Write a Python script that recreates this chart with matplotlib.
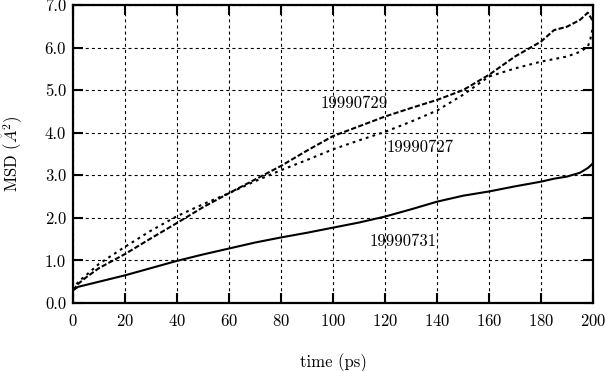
import matplotlib
matplotlib.use("Agg")
import matplotlib.pyplot as plt
from matplotlib.ticker import FormatStrFormatter, MultipleLocator

plt.rcParams['font.family'] = ['cmr10']
plt.rcParams['mathtext.fontset'] = 'cm'
plt.rcParams['axes.formatter.use_mathtext'] = True
plt.rcParams['lines.scale_dashes'] = False

# 19990731 (solid)
t_731 = [0, 2, 10, 20, 30, 40, 50, 60, 70, 80, 90, 100, 110, 120, 130, 140, 150, 160, 170, 180, 185, 190, 195, 198, 200]
msd_731 = [0.30, 0.38, 0.50, 0.65, 0.82, 0.99, 1.14, 1.28, 1.42, 1.54, 1.65, 1.77, 1.89, 2.03, 2.20, 2.38, 2.52, 2.62, 2.74, 2.85, 2.92, 2.97, 3.06, 3.17, 3.28]

# 19990729 (dashed)
t_729 = [0, 2, 5, 10, 20, 30, 40, 50, 60, 70, 80, 90, 100, 110, 120, 130, 140, 150, 160, 170, 180, 185, 190, 195, 198, 200]
msd_729 = [0.30, 0.45, 0.60, 0.82, 1.15, 1.52, 1.88, 2.25, 2.58, 2.90, 3.22, 3.58, 3.92, 4.15, 4.38, 4.58, 4.77, 5.00, 5.36, 5.79, 6.14, 6.41, 6.49, 6.65, 6.82, 6.62]

# 19990727 (short dashes)
t_727 = [0, 2, 5, 10, 20, 30, 40, 50, 60, 70, 80, 90, 100, 110, 120, 130, 140, 150, 160, 170, 180, 190, 195, 198, 199, 200]
msd_727 = [0.30, 0.50, 0.65, 0.92, 1.32, 1.70, 2.04, 2.32, 2.58, 2.86, 3.12, 3.36, 3.61, 3.82, 4.02, 4.26, 4.52, 4.89, 5.32, 5.51, 5.67, 5.79, 5.90, 6.02, 6.20, 6.50]

labels = ["19990729", "19990727", "19990731"]
label_x = [108, 133.5, 127]
label_y = [4.70, 3.66, 1.46]

fig = plt.figure(figsize=(6.05, 3.71), dpi=100)
ax = fig.add_axes([73/605, 68/371, 520/605, 298/371])

ax.plot(t_731, msd_731, color='black', lw=1.5, linestyle='-')
ax.plot(t_729, msd_729, color='black', lw=1.5, linestyle=(0, (3.8, 1.6)))
ax.plot(t_727, msd_727, color='black', lw=1.5, linestyle=(0, (2.0, 3.0)))

for s, x, y in zip(labels, label_x, label_y):
    ax.text(x, y, s, ha='center', va='center', fontsize=12)

ax.set_xlim(0, 200)
ax.set_ylim(0, 7)
ax.xaxis.set_major_locator(MultipleLocator(20))
ax.yaxis.set_major_locator(MultipleLocator(1))
ax.yaxis.set_major_formatter(FormatStrFormatter('%.1f'))

ax.grid(True, color='black', lw=0.8, linestyle=(0, (2.2, 2.2)))
ax.tick_params(direction='in', length=7.5, width=1.5, top=True, right=True, labelsize=12)
ax.tick_params(axis='x', pad=7)
ax.tick_params(axis='y', pad=5)
for sp in ax.spines.values():
    sp.set_linewidth(1.6)

ax.set_xlabel('time (ps)', fontsize=12, labelpad=18)
ax.set_ylabel(r'MSD ($\mathring{A}^2$)', fontsize=12, labelpad=14)

fig.savefig('out.png', dpi=100)
